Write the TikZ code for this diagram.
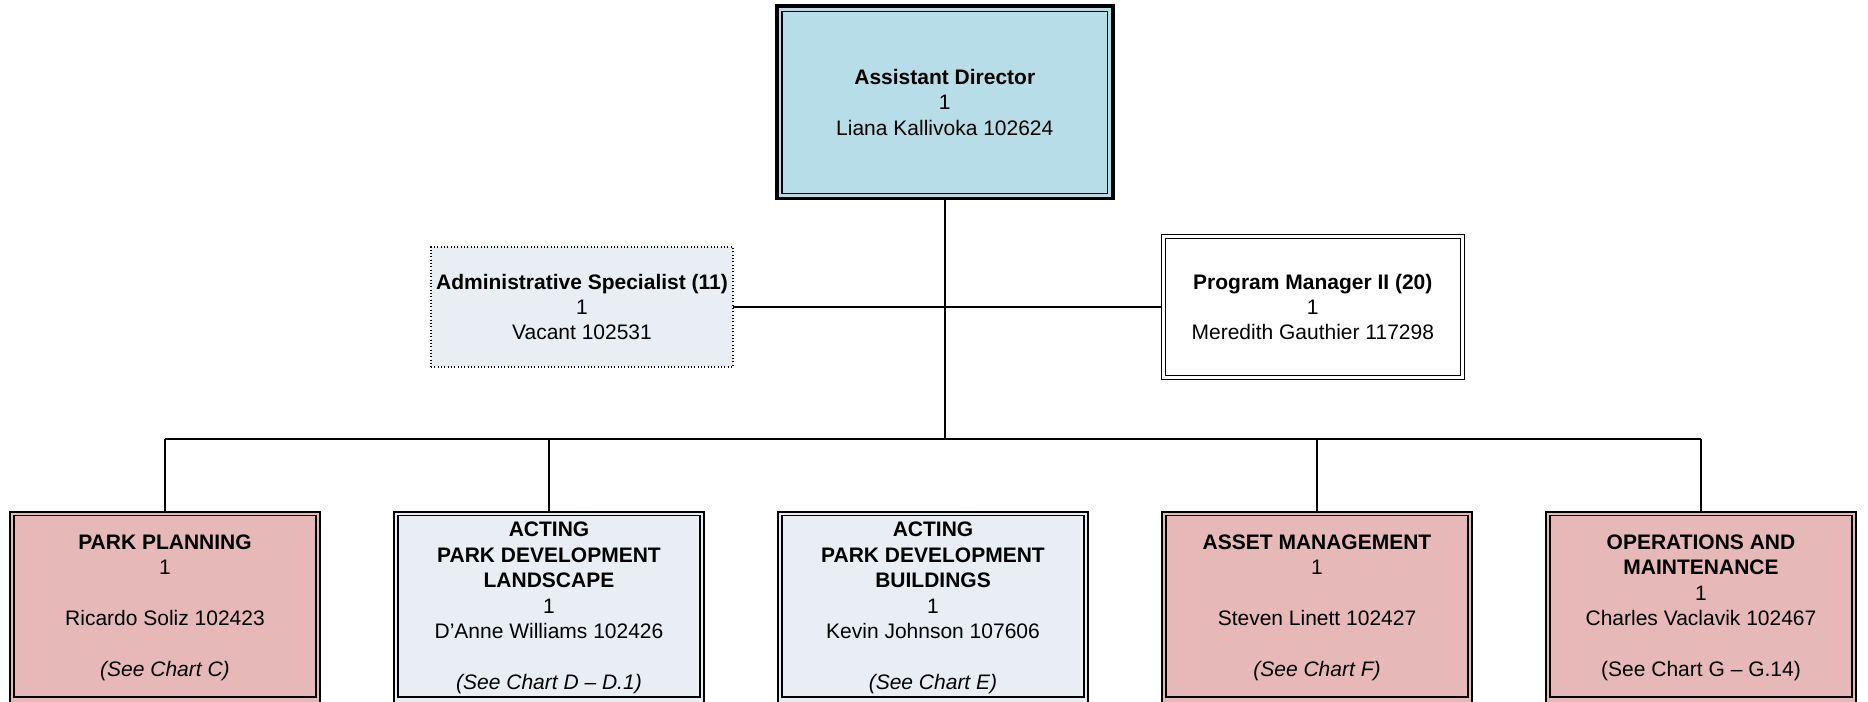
\documentclass[tikz,border=0pt]{standalone}
\usepackage{fontspec}
\setmainfont{Liberation Sans}
\definecolor{topblue}{HTML}{B7DDE8}
\definecolor{pinkfill}{HTML}{E6B8B7}
\definecolor{greyblue}{HTML}{E9EDF4}
\tikzset{
  txt/.style={align=center, font=\fontsize{15.75}{19.1}\selectfont, inner sep=0pt, outer sep=0pt},
  topbox/.style={txt, draw=black, line width=2.6pt, fill=topblue, minimum width=252pt, minimum height=144.5pt},
  admbox/.style={txt, draw=black, line width=0.8pt, dash pattern=on 0.8pt off 1.7pt, fill=greyblue, minimum width=226.5pt, minimum height=90pt},
  pmbox/.style={txt, draw=black, line width=0.9pt, fill=white, minimum width=227pt, minimum height=108.5pt},
  unitbox/.style={txt, draw=black, line width=1.5pt, minimum width=232.5pt, minimum height=144.2pt},
  pinkbox/.style={unitbox, fill=pinkfill},
  greybox/.style={unitbox, fill=greyblue},
  conn/.style={draw=black, line width=1.2pt},
  innerline/.style={draw=black, line width=1pt}
}
\begin{document}
\begin{tikzpicture}[x=0.75pt,y=-0.75pt]
\useasboundingbox (0,0) rectangle (1868,702);

% top
\node[topbox] (ad) at (944.8,102.4) {\textbf{Assistant Director}\\1\\Liana Kallivoka 102624};
\draw[line width=1.1pt] ([xshift=3.9pt,yshift=-3.9pt]ad.north west) rectangle ([xshift=-3.9pt,yshift=3.9pt]ad.south east);

% staff
\node[admbox] (adm) at (582,307) {\textbf{Administrative Specialist (11)}\\1\\Vacant 102531};
\node[pmbox] (pm) at (1312.8,307) {\textbf{Program Manager II (20)}\\1\\Meredith Gauthier 117298};
\draw[line width=0.9pt] ([xshift=3pt,yshift=-3pt]pm.north west) rectangle ([xshift=-3pt,yshift=3pt]pm.south east);

% units
\node[pinkbox] (pp) at (165,607.85) {\textbf{PARK PLANNING}\\1\\[19.1pt]Ricardo Soliz 102423\\[19.1pt]\textit{(See Chart C)}};
\node[greybox] (pdl) at (549,607.85) {\textbf{ACTING}\\\textbf{PARK DEVELOPMENT}\\\textbf{LANDSCAPE}\\1\\D’Anne Williams 102426\\[19.1pt]\textit{(See Chart D – D.1)}};
\node[greybox] (pdb) at (933,607.85) {\textbf{ACTING}\\\textbf{PARK DEVELOPMENT}\\\textbf{BUILDINGS}\\1\\Kevin Johnson 107606\\[19.1pt]\textit{(See Chart E)}};
\node[pinkbox] (am) at (1317,607.85) {\textbf{ASSET MANAGEMENT}\\1\\[19.1pt]Steven Linett 102427\\[19.1pt]\textit{(See Chart F)}};
\node[pinkbox] (om) at (1701,607.85) {\textbf{OPERATIONS AND}\\\textbf{MAINTENANCE}\\1\\Charles Vaclavik 102467\\[19.1pt](See Chart G – G.14)};
\foreach \n in {pp,pdl,pdb,am,om}
  \draw[innerline] ([xshift=3pt,yshift=-3pt]\n.north west) rectangle ([xshift=-3pt,yshift=5.25pt]\n.south east);

% connectors
\coordinate (busL) at (165,439);
\coordinate (busR) at (1701,439);
\draw[conn] (adm.east) -- (pm.west);
\draw[conn] (ad.south) -- (ad.south |- busL);
\draw[conn] (busL) -- (busR);
\foreach \n in {pp,pdl,am,om}
  \draw[conn] (\n.north) -- (\n.north |- busL);
\end{tikzpicture}
\end{document}
